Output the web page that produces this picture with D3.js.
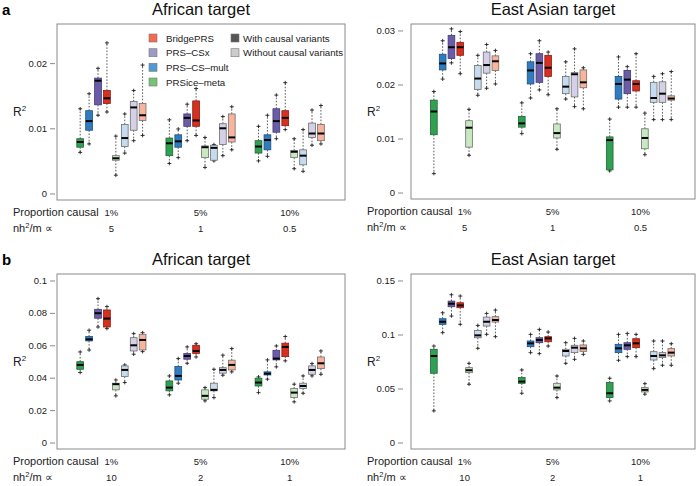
<!DOCTYPE html>
<html><head><meta charset="utf-8">
<script src="https://cdn.jsdelivr.net/npm/d3@7"></script>
<style>
body{margin:0;background:#fff;}
svg{display:block;font-family:"Liberation Sans",Arial,Helvetica,sans-serif;}
</style></head>
<body>
<svg id="chart" width="699" height="486"></svg>
<script>
// ---------- data ----------
const methods = ["PRSice-meta", "PRS-CS-mult", "PRS-CSx", "BridgePRS"];
const causalLabels = ["With causal variants", "Without causal variants"];
const propCausal = ["1%", "5%", "10%"];
const nh2A = ["5", "1", "0.5"];
const nh2B = ["10", "2", "1"];
// each box: [min, q1, median, q3, max]; per group: 4 methods with causal variants, then 4 without
const afrA = [
  [0.0063,0.0071,0.0079,0.0084,0.0130],[0.0076,0.0097,0.0111,0.0127,0.0153],[0.0120,0.0136,0.0173,0.0177,0.0192],[0.0125,0.0138,0.0146,0.0158,0.0231],
  [0.0028,0.0051,0.0054,0.0058,0.0088],[0.0062,0.0072,0.0085,0.0106,0.0122],[0.0081,0.0097,0.0132,0.0141,0.0158],[0.0089,0.0112,0.0120,0.0138,0.0197],
  [0.0046,0.0058,0.0077,0.0085,0.0113],[0.0055,0.0071,0.0080,0.0090,0.0099],[0.0081,0.0103,0.0116,0.0122,0.0137],[0.0089,0.0103,0.0112,0.0142,0.0161],
  [0.0040,0.0055,0.0071,0.0073,0.0086],[0.0050,0.0051,0.0070,0.0074,0.0075],[0.0058,0.0075,0.0100,0.0107,0.0118],[0.0067,0.0079,0.0086,0.0122,0.0133],
  [0.0050,0.0062,0.0072,0.0081,0.0103],[0.0057,0.0067,0.0082,0.0090,0.0120],[0.0084,0.0094,0.0111,0.0130,0.0151],[0.0098,0.0104,0.0116,0.0127,0.0170],
  [0.0038,0.0055,0.0064,0.0066,0.0084],[0.0034,0.0044,0.0058,0.0067,0.0098],[0.0074,0.0086,0.0092,0.0108,0.0128],[0.0076,0.0081,0.0092,0.0106,0.0135]
];
const easA = [
  [0.0035,0.0107,0.0150,0.0171,0.0187],[0.0210,0.0227,0.0239,0.0256,0.0281],[0.0240,0.0248,0.0269,0.0291,0.0303],[0.0220,0.0254,0.0269,0.0278,0.0298],
  [0.0069,0.0084,0.0120,0.0133,0.0154],[0.0180,0.0191,0.0211,0.0235,0.0254],[0.0193,0.0221,0.0236,0.0260,0.0274],[0.0201,0.0226,0.0243,0.0253,0.0263],
  [0.0109,0.0121,0.0128,0.0141,0.0166],[0.0175,0.0201,0.0226,0.0242,0.0257],[0.0190,0.0204,0.0240,0.0257,0.0281],[0.0181,0.0215,0.0231,0.0254,0.0260],
  [0.0080,0.0101,0.0110,0.0127,0.0155],[0.0173,0.0183,0.0196,0.0215,0.0242],[0.0159,0.0177,0.0219,0.0222,0.0266],[0.0155,0.0194,0.0204,0.0227,0.0231],
  [0.0040,0.0042,0.0097,0.0103,0.0136],[0.0158,0.0173,0.0201,0.0215,0.0251],[0.0158,0.0183,0.0209,0.0226,0.0233],[0.0158,0.0188,0.0201,0.0207,0.0257],
  [0.0070,0.0081,0.0101,0.0118,0.0147],[0.0135,0.0167,0.0175,0.0204,0.0215],[0.0135,0.0167,0.0183,0.0205,0.0220],[0.0135,0.0171,0.0174,0.0179,0.0224]
];
const afrB = [
  [0.0432,0.0452,0.0479,0.0499,0.0559],[0.0571,0.0627,0.0637,0.0654,0.0693],[0.0713,0.0767,0.0798,0.0822,0.0888],[0.0703,0.0713,0.0765,0.0818,0.0839],
  [0.0288,0.0325,0.0360,0.0366,0.0386],[0.0370,0.0407,0.0448,0.0473,0.0479],[0.0545,0.0565,0.0600,0.0647,0.0672],[0.0561,0.0571,0.0633,0.0668,0.0678],
  [0.0294,0.0319,0.0339,0.0380,0.0411],[0.0366,0.0386,0.0411,0.0469,0.0518],[0.0489,0.0514,0.0534,0.0549,0.0590],[0.0528,0.0549,0.0565,0.0600,0.0610],
  [0.0257,0.0267,0.0288,0.0325,0.0339],[0.0277,0.0319,0.0325,0.0366,0.0452],[0.0415,0.0428,0.0448,0.0462,0.0539],[0.0436,0.0448,0.0479,0.0508,0.0580],
  [0.0308,0.0349,0.0370,0.0397,0.0405],[0.0391,0.0417,0.0425,0.0436,0.0510],[0.0467,0.0510,0.0518,0.0569,0.0596],[0.0504,0.0530,0.0590,0.0613,0.0654],
  [0.0251,0.0277,0.0308,0.0333,0.0360],[0.0304,0.0333,0.0349,0.0366,0.0411],[0.0411,0.0421,0.0448,0.0473,0.0487],[0.0421,0.0456,0.0489,0.0528,0.0565]
];
const easB = [
  [0.0293,0.0641,0.0801,0.0863,0.0893],[0.1017,0.1094,0.1118,0.1146,0.1201],[0.1171,0.1257,0.1285,0.1309,0.1368],[0.1094,0.1248,0.1269,0.1294,0.1356],
  [0.0539,0.0647,0.0669,0.0693,0.0733],[0.0872,0.0970,0.0992,0.1038,0.1084],[0.1001,0.1078,0.1118,0.1161,0.1195],[0.0980,0.1115,0.1134,0.1165,0.1226],
  [0.0456,0.0548,0.0564,0.0601,0.0672],[0.0832,0.0887,0.0918,0.0940,0.1001],[0.0823,0.0924,0.0949,0.0970,0.1047],[0.0893,0.0933,0.0964,0.0980,0.1023],
  [0.0416,0.0487,0.0508,0.0548,0.0616],[0.0733,0.0801,0.0847,0.0863,0.0924],[0.0770,0.0832,0.0878,0.0900,0.0964],[0.0816,0.0844,0.0872,0.0903,0.0940],
  [0.0385,0.0416,0.0456,0.0555,0.0595],[0.0761,0.0832,0.0872,0.0909,0.1001],[0.0795,0.0863,0.0900,0.0924,0.1010],[0.0795,0.0878,0.0918,0.0961,0.1001],
  [0.0447,0.0468,0.0487,0.0508,0.0545],[0.0684,0.0764,0.0801,0.0841,0.0940],[0.0715,0.0786,0.0807,0.0832,0.0940],[0.0715,0.0801,0.0832,0.0869,0.0915]
];
const ticksAfrA = [0, 0.01, 0.02];
const ticksEasA = [0, 0.01, 0.02, 0.03];
const ticksAfrB = [0, 0.02, 0.04, 0.06, 0.08, 0.1];
const ticksEasB = [0, 0.05, 0.1, 0.15];

// ---------- styles ----------
const darkFill = ["#31a052", "#2f7dc0", "#6b5caa", "#d7301f"];
const lightFill = ["#c7e9c0", "#c6dbef", "#d3d0e8", "#f8b49c"];
const legendFill = ["#74c476", "#4f9bd4", "#9e9ac8", "#f46a4e"];
const axisGray = "#8a8a8a";
const textCol = "#222";

const svg = d3.select("#chart");

function fmt(v) { return v === 0 ? "0" : String(+v.toFixed(3)); }

function drawPanel(cfg) {
  const g = svg.append("g");
  const x = d3.scaleLinear().domain([-1.6, 30.7]).range([cfg.x0, cfg.x1]);
  const y = d3.scaleLinear().domain(cfg.yDomain).range([cfg.y1, cfg.y0]);
  const unit = x(1) - x(0);
  const bw = unit * 0.76;

  // frame
  g.append("rect").attr("x", cfg.x0).attr("y", cfg.y0)
    .attr("width", cfg.x1 - cfg.x0).attr("height", cfg.y1 - cfg.y0)
    .attr("fill", "none").attr("stroke", axisGray).attr("stroke-width", 1);

  // y axis
  const ax = g.append("g").attr("transform", `translate(${cfg.x0 - cfg.axGap},0)`)
    .call(d3.axisLeft(y).tickValues(cfg.ticks).tickFormat(fmt).tickSize(5).tickPadding(3));
  ax.select(".domain").remove();
  ax.selectAll(".tick line").attr("stroke", axisGray);
  ax.selectAll(".tick text").attr("fill", textCol).attr("font-size", 9.5)
    .attr("font-family", "Liberation Sans, Arial, sans-serif");

  // R^2 label
  const rl = g.append("text").attr("x", cfg.x0 - 44).attr("y", (cfg.y0 + cfg.y1) / 2 + 4)
    .attr("font-size", 12).attr("fill", textCol);
  rl.append("tspan").text("R");
  rl.append("tspan").attr("dy", -5).attr("font-size", 8).text("2");

  // title
  g.append("text").attr("x", (cfg.x0 + cfg.x1) / 2).attr("y", cfg.y0 - 9)
    .attr("text-anchor", "middle").attr("font-size", 16.5).attr("fill", "#111").text(cfg.title);

  // boxes
  cfg.data.forEach((d, i) => {
    const grp = Math.floor(i / 8), k = i % 8, m = k % 4, light = k >= 4;
    const pos = grp * 10 + k + 1;
    const cx = x(pos);
    const [mn, q1, md, q3, mx] = d;
    const fill = light ? lightFill[m] : darkFill[m];
    const stroke = light ? "#6e6e6e" : d3.color(darkFill[m]).darker(1.3).formatHex();
    // whiskers
    [[q3, mx], [q1, mn]].forEach(([a, b]) => {
      g.append("line").attr("x1", cx).attr("x2", cx).attr("y1", y(a)).attr("y2", y(b))
        .attr("stroke", "#333").attr("stroke-width", 0.8).attr("stroke-dasharray", "1.6,1.6");
      g.append("line").attr("x1", cx - 2).attr("x2", cx + 2).attr("y1", y(b)).attr("y2", y(b))
        .attr("stroke", "#222").attr("stroke-width", 0.9);
      g.append("line").attr("x1", cx).attr("x2", cx).attr("y1", y(b) - 1.8).attr("y2", y(b) + 1.8)
        .attr("stroke", "#222").attr("stroke-width", 0.9);
    });
    g.append("rect").attr("x", cx - bw / 2).attr("y", y(Math.max(q1, q3)))
      .attr("width", bw).attr("height", Math.max(0.8, Math.abs(y(q1) - y(q3))))
      .attr("fill", fill).attr("stroke", stroke).attr("stroke-width", 0.8);
    g.append("line").attr("x1", cx - bw / 2).attr("x2", cx + bw / 2).attr("y1", y(md)).attr("y2", y(md))
      .attr("stroke", "#000").attr("stroke-width", 2);
  });

  // bottom labels
  const r1 = cfg.y1 + 16, r2 = cfg.y1 + 32;
  g.append("text").attr("x", cfg.x0 - 44).attr("y", r1).attr("font-size", 11).attr("fill", textCol)
    .text("Proportion causal");
  const nl = g.append("text").attr("x", cfg.x0 - 44).attr("y", r2).attr("font-size", 11).attr("fill", textCol);
  nl.append("tspan").text("nh");
  nl.append("tspan").attr("dy", -4).attr("font-size", 7.5).text("2");
  nl.append("tspan").attr("dy", 4).text("/m \u221D");
  propCausal.forEach((p, j) => {
    const cx = x(j * 10 + 4.5);
    g.append("text").attr("x", cx).attr("y", r1).attr("text-anchor", "middle")
      .attr("font-size", 9.5).attr("fill", textCol).text(p);
    g.append("text").attr("x", cx).attr("y", r2).attr("text-anchor", "middle")
      .attr("font-size", 9.5).attr("fill", textCol).text(cfg.nh2[j]);
  });
}

drawPanel({x0: 57, x1: 345, y0: 24, y1: 200, axGap: 2, yDomain: [-0.001, 0.026], ticks: ticksAfrA, data: afrA, title: "African target", nh2: nh2A});
drawPanel({x0: 411, x1: 695, y0: 24, y1: 199, axGap: 8, yDomain: [-0.0012, 0.0312], ticks: ticksEasA, data: easA, title: "East Asian target", nh2: nh2A});
drawPanel({x0: 57, x1: 345, y0: 274, y1: 449, axGap: 2, yDomain: [-0.004, 0.104], ticks: ticksAfrB, data: afrB, title: "African target", nh2: nh2B});
drawPanel({x0: 411, x1: 695, y0: 274, y1: 449, axGap: 8, yDomain: [-0.006, 0.156], ticks: ticksEasB, data: easB, title: "East Asian target", nh2: nh2B});

// panel letters
svg.append("text").attr("x", 2).attr("y", 15).attr("font-size", 15).attr("font-weight", "bold").text("a");
svg.append("text").attr("x", 2).attr("y", 265).attr("font-size", 15).attr("font-weight", "bold").text("b");

// legend
const leg = svg.append("g");
const rowsY = [38, 52.7, 67.3, 82];
const legMethods = ["BridgePRS", "PRS\u2013CSx", "PRS\u2013CS\u2013mult", "PRSice\u2013meta"];
const legCols = [legendFill[3], legendFill[2], legendFill[1], legendFill[0]];
legMethods.forEach((t, i) => {
  leg.append("rect").attr("x", 149).attr("y", rowsY[i] - 4).attr("width", 8).attr("height", 8)
    .attr("fill", legCols[i]).attr("stroke", "#777").attr("stroke-width", 0.6);
  leg.append("text").attr("x", 166).attr("y", rowsY[i] + 3.5).attr("font-size", 9.7).attr("fill", textCol).text(t);
});
const causalFill = ["#555555", "#cccccc"];
causalLabels.forEach((t, i) => {
  leg.append("rect").attr("x", 231).attr("y", rowsY[i] - 4).attr("width", 8).attr("height", 8)
    .attr("fill", causalFill[i]).attr("stroke", "#777").attr("stroke-width", 0.6);
  leg.append("text").attr("x", 243).attr("y", rowsY[i] + 3.5).attr("font-size", 9.7).attr("fill", textCol).text(t);
});
</script>
</body></html>
